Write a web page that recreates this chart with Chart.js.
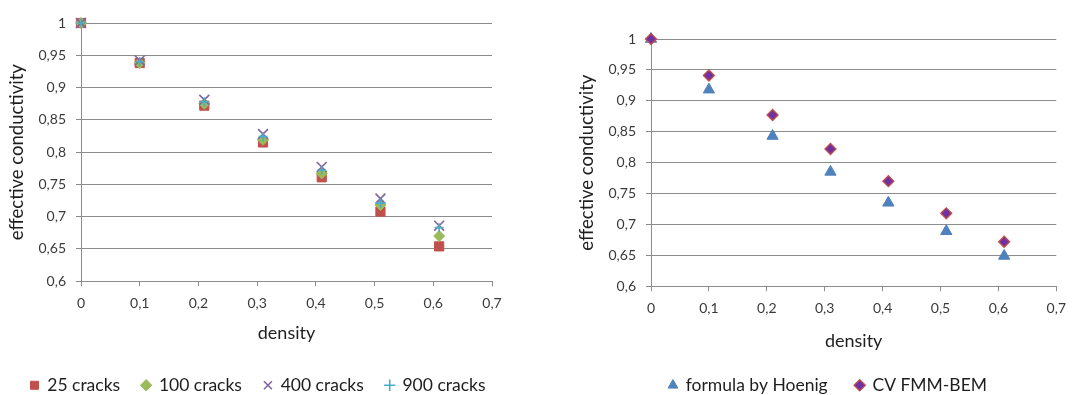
<!DOCTYPE html>
<html>
<head>
<meta charset="utf-8">
<script src="https://cdn.jsdelivr.net/npm/chart.js@4/dist/chart.umd.min.js"></script>
<style>
  html, body { margin: 0; padding: 0; background: #fff; overflow: hidden; width: 1075px; height: 395px; }
  .box { position: absolute; top: 0; }
  #leftBox { left: 0; width: 516px; height: 404px; }
  #rightBox { left: 570px; width: 505px; height: 404px; }
</style>
</head>
<body>
<div class="box" id="leftBox"><canvas id="left" width="516" height="404"></canvas></div>
<div class="box" id="rightBox"><canvas id="right" width="505" height="404"></canvas></div>
<script>
// ---- data ----
const densities = [0, 0.1, 0.21, 0.31, 0.41, 0.51, 0.61];
const cracks25  = [1, 0.938, 0.872, 0.815, 0.761, 0.708, 0.654];
const cracks100 = [1, 0.938, 0.875, 0.819, 0.767, 0.718, 0.670];
const cracks400 = [1, 0.942, 0.881, 0.828, 0.777, 0.728, 0.686];
const cracks900 = [1, 0.940, 0.878, 0.824, 0.772, 0.721, 0.683];
const hoenig    = [1, 0.918, 0.843, 0.785, 0.735, 0.689, 0.649];
const fmmBem    = [1, 0.941, 0.877, 0.822, 0.770, 0.718, 0.672];

const xTickValues = [0, 0.1, 0.2, 0.3, 0.4, 0.5, 0.6, 0.7];
const xTickLabels = ['0', '0,1', '0,2', '0,3', '0,4', '0,5', '0,6', '0,7'];
const yTickValues = [0.6, 0.65, 0.7, 0.75, 0.8, 0.85, 0.9, 0.95, 1];
const yTickLabels = ['0,6', '0,65', '0,7', '0,75', '0,8', '0,85', '0,9', '0,95', '1'];

const leftNames = ['25 cracks', '100 cracks', '400 cracks', '900 cracks'];
const rightNames = ['formula by Hoenig', 'CV FMM-BEM'];

// ---- styling ----
const FONT = 'Lato, "Open Sans", sans-serif';
const GRID = '#8c8c8c';
const TICK_COLOR = '#3a3a3a';
const TITLE_COLOR = '#1e1e1e';

function pts(ys) { return densities.map((x, i) => ({x: x, y: ys[i]})); }

// center the legend row on a given x (canvas coords)
const legendCenterPlugin = {
  id: 'legendCenter',
  afterLayout(chart) {
    const c = chart.options.plugins.legendCenter;
    const lg = chart.legend;
    if (!c || !lg) return;
    const w = chart.width;
    lg.left = c.center - w / 2;
    lg.right = c.center + w / 2;
  }
};

function makeOptions(cfg) {
  return {
    responsive: false,
    animation: false,
    devicePixelRatio: 1,
    layout: { padding: { top: cfg.top, right: 0, left: 0, bottom: 0 } },
    plugins: {
      tooltip: { enabled: false },
      legendCenter: { center: cfg.legendCenter },
      legend: {
        position: 'bottom',
        labels: {
          usePointStyle: true,
          boxWidth: 8, boxHeight: 8,
          padding: cfg.legendPad,
          color: TITLE_COLOR,
          font: { family: FONT, size: 17.5 },
          sort: (a, b) => a.datasetIndex - b.datasetIndex
        }
      }
    },
    scales: {
      x: {
        type: 'linear', min: 0, max: 0.7,
        afterBuildTicks: s => { s.ticks = xTickValues.map(v => ({value: v})); },
        afterFit: s => { s.height = cfg.xHeight; },
        grid: { display: true, drawOnChartArea: false, drawTicks: true, tickLength: 5, color: GRID, lineWidth: 1 },
        border: { display: true, color: GRID, width: 1 },
        ticks: {
          padding: 9, color: TICK_COLOR, font: { family: FONT, size: 14 },
          maxRotation: 0, autoSkip: false,
          callback: (v, i) => xTickLabels[i]
        },
        title: { display: true, text: 'density', color: TITLE_COLOR,
                 font: { family: FONT, size: 18 }, padding: { top: 0, bottom: cfg.xTitlePad } }
      },
      y: {
        type: 'linear', min: 0.6, max: 1,
        afterBuildTicks: s => { s.ticks = yTickValues.map(v => ({value: v})); },
        afterFit: s => { s.width = 81; },
        grid: { display: true, drawTicks: true, tickLength: 5, color: GRID, lineWidth: 1 },
        border: { display: true, color: GRID, width: 1 },
        ticks: {
          padding: 10, color: TICK_COLOR, font: { family: FONT, size: 14 },
          autoSkip: false,
          callback: (v, i) => yTickLabels[i]
        },
        title: { display: true, text: 'effective conductivity', color: TITLE_COLOR,
                 font: { family: FONT, size: 18.5 }, padding: { top: 6, bottom: 0 } }
      },
      // invisible spacer on the right side of the plot area
      rightGap: {
        type: 'linear', position: 'right', display: true,
        afterFit: s => { s.width = cfg.right; },
        grid: { display: false, drawTicks: false },
        border: { display: false },
        ticks: { display: false },
        title: { display: false }
      }
    }
  };
}

function ds(label, data, style, radius, bg, border, bw, order) {
  return {
    label: label, data: pts(data), showLine: false, clip: false,
    pointStyle: style, pointRadius: radius, pointHoverRadius: radius,
    backgroundColor: bg, borderColor: border,
    pointBackgroundColor: bg, pointBorderColor: border,
    pointBorderWidth: bw, borderWidth: bw, order: order
  };
}

new Chart(document.getElementById('left'), {
  type: 'scatter',
  data: {
    datasets: [
      ds(leftNames[0], cracks25, 'rect', 6.5, '#C0504D', '#C0504D', 1, 4),
      ds(leftNames[1], cracks100, 'rectRot', 5.5, '#9BBB59', '#9BBB59', 1, 3),
      ds(leftNames[2], cracks400, 'crossRot', 7, '#8064A2', '#8064A2', 1.6, 2),
      ds(leftNames[3], cracks900, 'cross', 4.5, '#4BACC6', '#4BACC6', 1.6, 1)
    ]
  },
  options: makeOptions({ top: 23, right: 24, xHeight: 73.25, xTitlePad: 10.75, legendCenter: 258, legendPad: 22 }),
  plugins: [legendCenterPlugin]
});

new Chart(document.getElementById('right'), {
  type: 'scatter',
  data: {
    datasets: [
      ds(rightNames[0], hoenig, 'triangle', 6.5, '#4F81BD', '#4F81BD', 1, 2),
      ds(rightNames[1], fmmBem, 'rectRot', 5.5, '#7030A0', '#C0504D', 1.3, 1)
    ]
  },
  options: makeOptions({ top: 39, right: 9, xHeight: 62.25, xTitlePad: -3.25, legendCenter: 258, legendPad: 28 }),
  plugins: [legendCenterPlugin]
});
</script>
</body>
</html>
